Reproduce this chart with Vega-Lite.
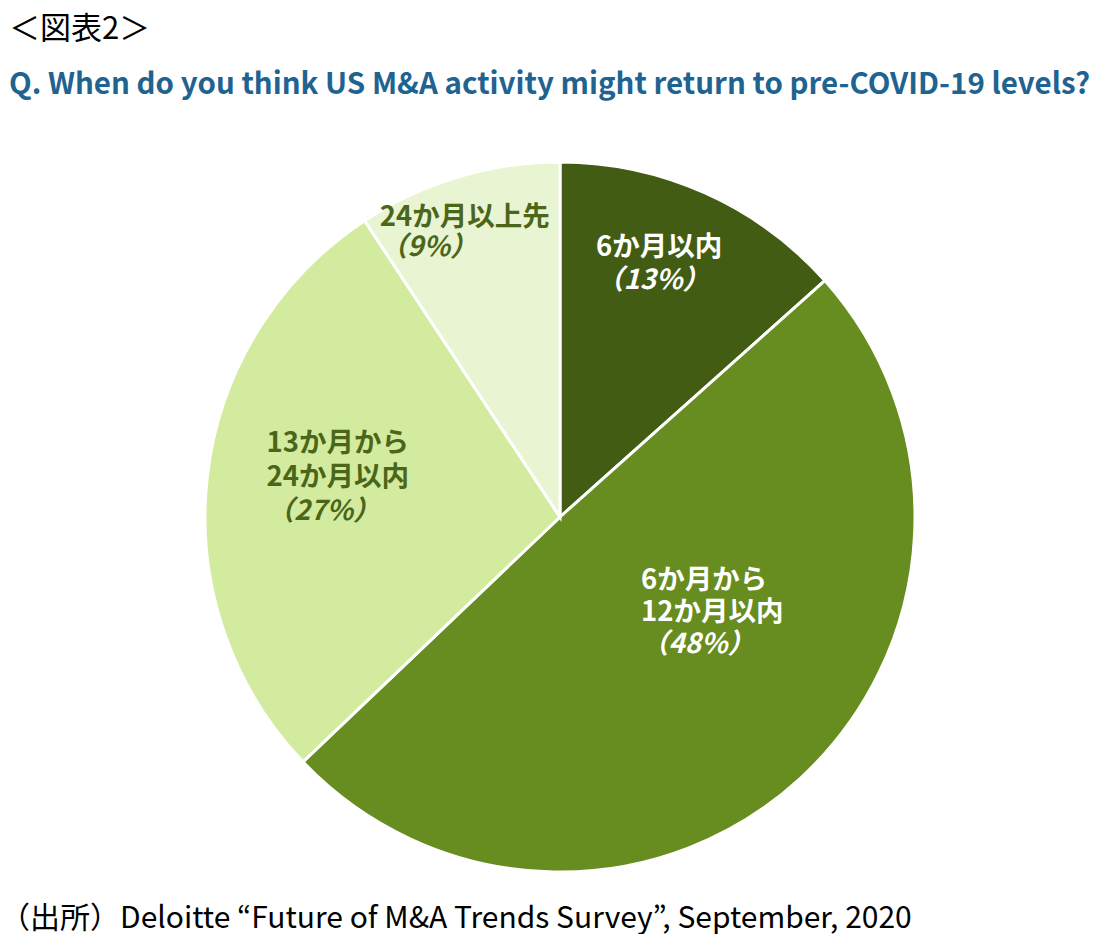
{
  "$schema": "https://vega.github.io/schema/vega-lite/v6.json",
  "background": "white",
  "padding": {"left": 0, "top": 13, "right": 0, "bottom": 0},
  "config": {"view": {"stroke": null}, "font": "Noto Sans CJK JP"},
  "title": {
    "text": "＜図表2＞",
    "subtitle": "Q. When do you think US M&A activity might return to pre-COVID-19 levels?",
    "anchor": "start",
    "frame": "group",
    "dx": -4,
    "font": "Noto Sans CJK JP",
    "fontSize": 31,
    "fontWeight": "normal",
    "color": "#000000",
    "subtitleFont": "Noto Sans CJK JP",
    "subtitleFontSize": 29.5,
    "subtitleFontWeight": "bold",
    "subtitleColor": "#1f6391",
    "subtitlePadding": 25,
    "offset": 47
  },
  "data": {
    "values": [
      {"category": "6か月以内", "value": 13, "order": 1},
      {"category": "6か月から12か月以内", "value": 48, "order": 2},
      {"category": "13か月から24か月以内", "value": 27, "order": 3},
      {"category": "24か月以上先", "value": 9, "order": 4}
    ]
  },
  "vconcat": [
    {
      "width": 1094,
      "height": 740,
      "title": {
        "text": "（出所）Deloitte “Future of M&A Trends Survey”, September, 2020",
        "orient": "bottom",
        "anchor": "start",
        "frame": "group",
        "dx": -13,
        "font": "Noto Sans CJK JP",
        "fontSize": 30,
        "fontWeight": "normal",
        "color": "#000000",
        "offset": 17
      },
      "encoding": {
        "theta": {"field": "value", "type": "quantitative", "stack": true},
        "order": {"field": "order", "type": "quantitative"}
      },
      "layer": [
        {
          "mark": {"type": "arc", "outerRadius": 355, "stroke": "white", "strokeWidth": 3},
          "encoding": {
            "color": {
              "field": "category",
              "type": "nominal",
              "sort": ["6か月以内", "6か月から12か月以内", "13か月から24か月以内", "24か月以上先"],
              "scale": {"range": ["#435c14", "#678c1f", "#d3eb9f", "#e9f4d2"]},
              "legend": null
            }
          }
        },
        {
          "mark": {"type": "text", "radius": 279, "dx": -78, "dy": -14, "align": "left", "baseline": "middle", "fontSize": 27.5, "fontWeight": "bold", "color": "white"},
          "encoding": {"text": {"condition": {"test": "datum.order == 1", "value": "6か月以内"}, "value": ""}}
        },
        {
          "mark": {"type": "text", "radius": 279, "dx": -78, "dy": 19, "align": "left", "baseline": "middle", "fontSize": 27.5, "fontWeight": "bold", "fontStyle": "italic", "color": "white"},
          "encoding": {"text": {"condition": {"test": "datum.order == 1", "value": "（13%）"}, "value": ""}}
        },
        {
          "mark": {"type": "text", "radius": 127, "dx": -5, "dy": -29, "align": "left", "baseline": "middle", "fontSize": 27.5, "fontWeight": "bold", "color": "white", "lineHeight": 32},
          "encoding": {"text": {"condition": {"test": "datum.order == 2", "value": ["6か月から", "12か月以内"]}, "value": ""}}
        },
        {
          "mark": {"type": "text", "radius": 127, "dx": -5, "dy": 35, "align": "left", "baseline": "middle", "fontSize": 27.5, "fontWeight": "bold", "fontStyle": "italic", "color": "white"},
          "encoding": {"text": {"condition": {"test": "datum.order == 2", "value": "（48%）"}, "value": ""}}
        },
        {
          "mark": {"type": "text", "radius": 240, "dx": -55, "dy": -46, "align": "left", "baseline": "middle", "fontSize": 27.5, "fontWeight": "bold", "color": "#4b6619", "lineHeight": 34},
          "encoding": {"text": {"condition": {"test": "datum.order == 3", "value": ["13か月から", "24か月以内"]}, "value": ""}}
        },
        {
          "mark": {"type": "text", "radius": 240, "dx": -55, "dy": 22, "align": "left", "baseline": "middle", "fontSize": 27.5, "fontWeight": "bold", "fontStyle": "italic", "color": "#4b6619"},
          "encoding": {"text": {"condition": {"test": "datum.order == 3", "value": "（27%）"}, "value": ""}}
        },
        {
          "mark": {"type": "text", "radius": 300, "dx": -94, "dy": -12, "align": "left", "baseline": "middle", "fontSize": 27.5, "fontWeight": "bold", "color": "#4b6619"},
          "encoding": {"text": {"condition": {"test": "datum.order == 4", "value": "24か月以上先"}, "value": ""}}
        },
        {
          "mark": {"type": "text", "radius": 300, "dx": -94, "dy": 18, "align": "left", "baseline": "middle", "fontSize": 27.5, "fontWeight": "bold", "fontStyle": "italic", "color": "#4b6619"},
          "encoding": {"text": {"condition": {"test": "datum.order == 4", "value": "（9%）"}, "value": ""}}
        }
      ]
    }
  ]
}
